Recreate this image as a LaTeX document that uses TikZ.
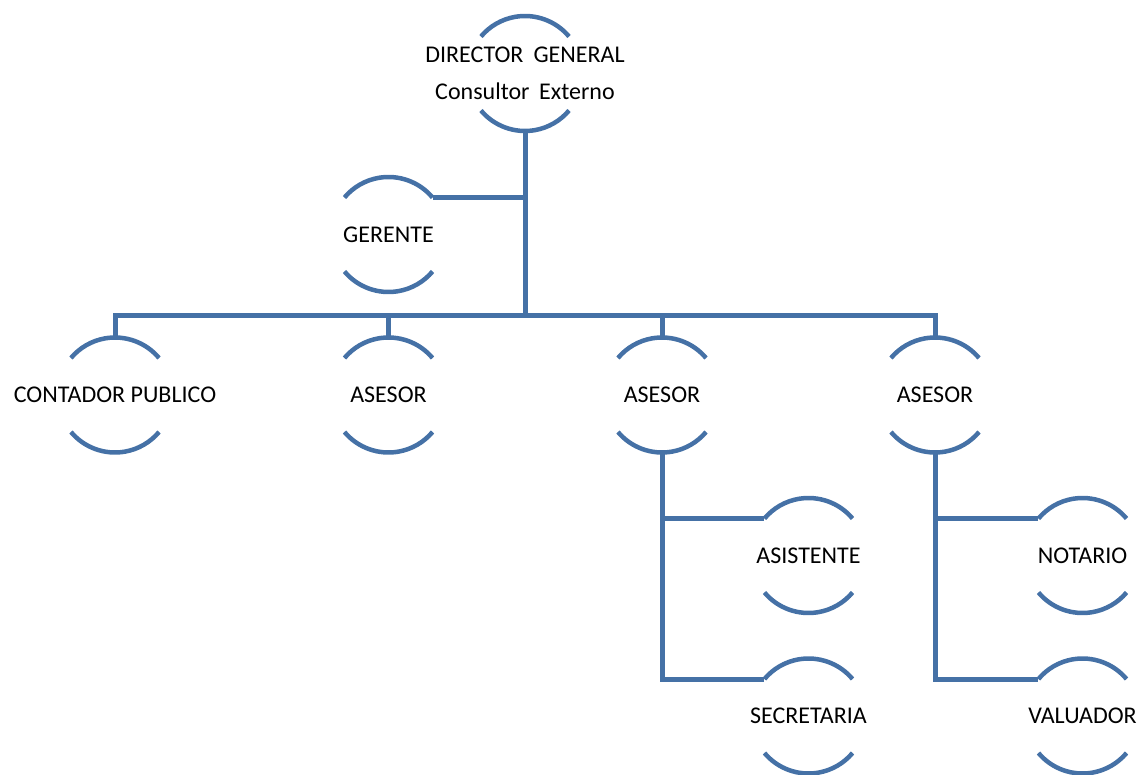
\documentclass[tikz,border=0pt]{standalone}
\usepackage{fontspec}
\setmainfont{Carlito}
\usetikzlibrary{positioning,calc}
\definecolor{azulorg}{HTML}{4571A6}
\tikzset{%
	puesto/.style = {circle, minimum size = 115pt, inner sep = 0pt, outer sep = 0pt}, % Cargo
	texto/.style  = {inner sep = 0pt, font = \fontsize{24}{37}\selectfont, align = center}, % Nombre
	arco/.style   = {line width = 4.5pt, draw = azulorg}, % Semicirculos
	linea/.style  = {line width = 5pt, draw = azulorg}, % Conector
}

\begin{document}
\begin{tikzpicture}[x = 1pt, y = 1pt]
	\useasboundingbox (0,0) rectangle (1140,-775);
	\node[puesto, label = {[texto]center:DIRECTOR\hspace{0.42em}GENERAL\\Consultor\hspace{0.4em}Externo}] (dir) at (525,-73.5) {};
	\node[puesto, label = {[texto]center:GERENTE}] (ger) at (388.5,-234.5) {};
	\coordinate (tronco) at (525,-316);
	\node[puesto, label = {[texto]center:CONTADOR PUBLICO}] (cont) at (115,-395) {};
	\node[puesto, label = {[texto]center:ASESOR}] (ase1) at (388.5,-395) {};
	\node[puesto, label = {[texto]center:ASESOR}] (ase2) at (662,-395) {};
	\node[puesto, label = {[texto]center:ASESOR}] (ase3) at (935,-395) {};
	\node[puesto, label = {[texto]center:ASISTENTE}] (asis) at (808.5,-555.5) {};
	\node[puesto, label = {[texto]center:SECRETARIA}] (secr) at (808.5,-716) {};
	\node[puesto, label = {[texto]center:NOTARIO}] (nota) at (1082.5,-555.5) {};
	\node[puesto, label = {[texto]center:VALUADOR}] (valu) at (1082.5,-716) {};
	
	\foreach \n in {dir,ger,cont,ase1,ase2,ase3,asis,secr,nota,valu}
		\draw[arco] (\n.40) arc[start angle = 40, end angle = 140, radius = 57.5pt]
			(\n.220) arc[start angle = 220, end angle = 320, radius = 57.5pt];
	
	\draw[linea] (dir.south) -- (tronco);
	\draw[linea] (ger.40) -- (ger.40 -| tronco);
	\draw[linea] (cont.north) |- (tronco);
	\draw[linea] (ase1.north) |- (tronco);
	\draw[linea] (ase2.north) |- (tronco);
	\draw[linea] (ase3.north) |- (tronco);
	\draw[linea] (ase2.south) |- (asis.140);
	\draw[linea] (ase2.south) |- (secr.140);
	\draw[linea] (ase3.south) |- (nota.140);
	\draw[linea] (ase3.south) |- (valu.140);
\end{tikzpicture}
\end{document}
